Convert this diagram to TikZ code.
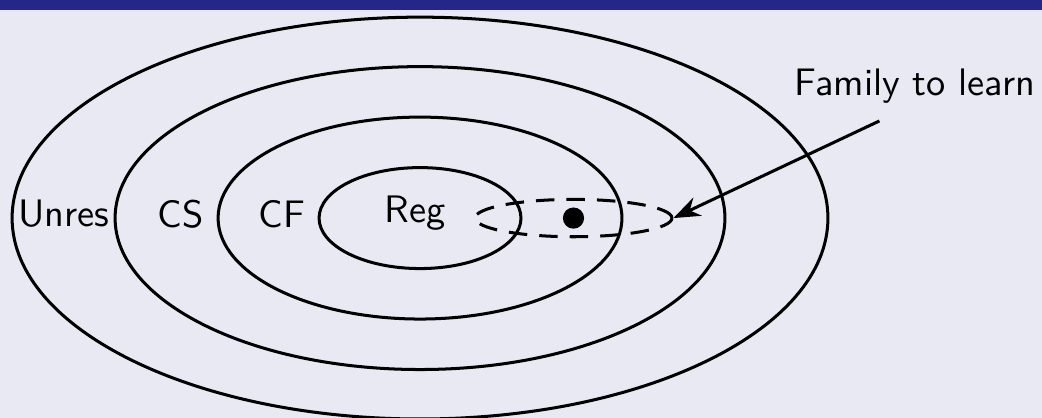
\documentclass[tikz,border=0pt]{standalone}
\usepackage{tikz}
\usetikzlibrary{arrows.meta,positioning,shapes.geometric}
\definecolor{slidebg}{HTML}{E9E9F3}
\definecolor{titlebar}{HTML}{262688}
\definecolor{ink}{HTML}{000000}
\tikzset{
  set/.style={draw=ink, line width=0.85pt},
  fam/.style={ellipse, draw=ink, line width=0.85pt, dash pattern=on 5.2pt off 3.4pt,
              inner sep=0pt, minimum width=1.95cm, minimum height=0.37cm},
  pt/.style={circle, fill=ink, inner sep=0pt, minimum size=0.21cm},
  lbl/.style={font=\fontsize{10.8}{13}\selectfont\sffamily, text=ink, inner sep=2pt},
  fl/.style={-{Stealth[length=7.5pt]}, draw=ink, line width=0.85pt}
}

\begin{document}
\begin{tikzpicture}
  % slide background and title bar
  \useasboundingbox (-4.16,-1.98) rectangle (6.16,2.16);
  \fill[slidebg] (-4.16,-1.98) rectangle (6.16,2.16);
  \fill[titlebar] (-4.16,2.06) rectangle (6.16,2.16);

  % nested classes
  \draw[set] (0,0) ellipse [x radius=1, y radius=0.5];
  \draw[set] (0,0) ellipse [x radius=2, y radius=1];
  \draw[set] (0,0) ellipse [x radius=3.02, y radius=1.5];
  \draw[set] (0,0) ellipse [x radius=4.04, y radius=1.99];

  \node[lbl] (unres) at (-3.53,0.04) {Unres};
  \node[lbl] (cs) at (-2.37,0.04) {CS};
  \node[lbl] (cf) at (-1.37,0.04) {CF};
  \node[lbl] (reg) at (-0.05,0.05) {Reg};

  % family to learn
  \node[fam] (fam) at (1.52,0) {};
  \node[pt] (target) at (1.52,0) {};
  \node[lbl] (lab) at (4.90,1.31) {Family to learn};
  \coordinate[below left=0.1cm and 0.35cm of lab.south] (tail);
  \draw[fl] (tail) -- (fam.east);
\end{tikzpicture}
\end{document}
